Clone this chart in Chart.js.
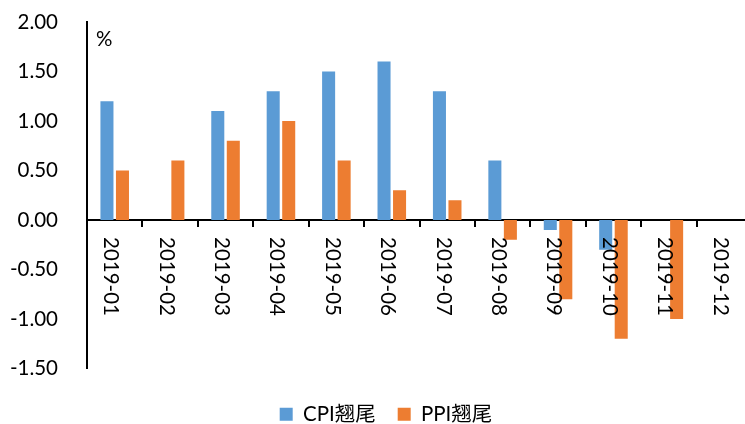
<!DOCTYPE html>
<html>
<head>
<meta charset="utf-8">
<script src="https://cdn.jsdelivr.net/npm/chart.js@4/dist/chart.umd.min.js"></script>
<style>
  html, body { margin: 0; padding: 0; background: #fff; overflow: hidden; }
  #wrap { width: 745px; height: 424px; overflow: hidden; position: relative; }
  #c { position: absolute; left: 0; top: 0; }
</style>
</head>
<body>
<div id="wrap"><canvas id="c" width="752" height="446" style="width:752px;height:446px"></canvas></div>
<script>
// Monthly carry-over effects, 2019 (%)
const months = ['2019-01', '2019-02', '2019-03', '2019-04', '2019-05', '2019-06',
                '2019-07', '2019-08', '2019-09', '2019-10', '2019-11', '2019-12'];
const cpiCarry = [1.2, 0, 1.1, 1.3, 1.5, 1.6, 1.3, 0.6, -0.1, -0.3, 0, 0];
const ppiCarry = [0.5, 0.6, 0.8, 1.0, 0.6, 0.3, 0.2, -0.2, -0.8, -1.2, -1.0, 0];
const seriesNames = ['CPI翘尾', 'PPI翘尾'];
const unitLabel = '%';

const FONT = 'Lato, "Noto Sans CJK SC", sans-serif';
const FONT_SIZE = 20.5;

// Month labels written top-to-bottom just under the zero line
const monthLabels = {
  id: 'monthLabels',
  afterDraw(chart) {
    const {ctx, scales: {x, y}} = chart;
    const y0 = y.getPixelForValue(0);
    ctx.save();
    ctx.fillStyle = '#000';
    ctx.font = FONT_SIZE + 'px ' + FONT;
    ctx.textAlign = 'left';
    ctx.textBaseline = 'middle';
    months.forEach((m, i) => {
      const cx = x.getPixelForValue(i) - 4;
      ctx.save();
      ctx.translate(cx, y0 + 17);
      ctx.rotate(Math.PI / 2);
      ctx.fillText(m, 0, 0);
      ctx.restore();
    });
    // unit marker at the top of the value axis
    ctx.textBaseline = 'alphabetic';
    ctx.fillText(unitLabel, x.left + 9, y.top + 24);
    ctx.restore();
  }
};

new Chart(document.getElementById('c'), {
  type: 'bar',
  data: {
    labels: months,
    datasets: [
      { label: seriesNames[0], data: cpiCarry, backgroundColor: '#5B9BD5', borderWidth: 0 },
      { label: seriesNames[1], data: ppiCarry, backgroundColor: '#ED7D31', borderWidth: 0 }
    ]
  },
  options: {
    responsive: false,
    animation: false,
    devicePixelRatio: 1,
    layout: { padding: { left: 20, right: 0, top: 22, bottom: 11.5 } },
    datasets: { bar: { categoryPercentage: 0.56, barPercentage: 0.84 } },
    scales: {
      x: {
        position: { y: 0 },
        grid: { display: true, drawOnChartArea: false, drawTicks: true, tickLength: 6,
                color: '#000', lineWidth: 2, offset: true },
        border: { display: true, color: '#000', width: 2 },
        ticks: { display: false }
      },
      y: {
        min: -1.5,
        max: 2,
        afterFit(scale) {
          scale.width = 67;
          scale.paddingTop = 0;
          scale.paddingBottom = 0;
          // let the longer negative labels extend past the axis box
          scale._computeLabelArea = () => undefined;
        },
        grid: { display: false, drawTicks: false },
        border: { display: true, color: '#000', width: 2 },
        ticks: {
          stepSize: 0.5,
          padding: 29,
          color: '#000',
          font: { family: FONT, size: FONT_SIZE },
          callback: v => Number(v).toFixed(2)
        }
      }
    },
    plugins: {
      tooltip: { enabled: false },
      legend: {
        position: 'bottom',
        title: { display: true, text: ' ', font: { size: 10, lineHeight: 1.2 }, padding: 0.75 },
        labels: {
          boxWidth: 13,
          boxHeight: 13,
          padding: 22,
          color: '#000',
          font: { family: FONT, size: FONT_SIZE }
        }
      }
    }
  },
  plugins: [monthLabels]
});
</script>
</body>
</html>
